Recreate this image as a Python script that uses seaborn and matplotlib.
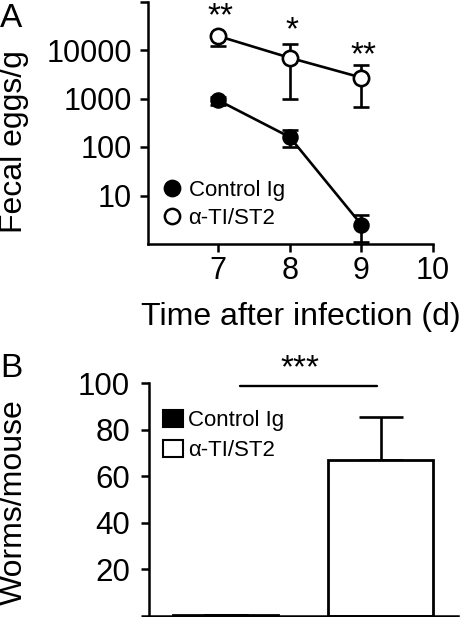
import matplotlib
matplotlib.use("Agg")
import matplotlib.pyplot as plt
from matplotlib.lines import Line2D
from matplotlib.patches import Patch
import seaborn as sns
import pandas as pd
import numpy as np

# ---------------- data ----------------
days = [7, 8, 9]
groups = ["Control Ig", "α-TI/ST2"]
control_eggs = [920, 160, 2.5]
control_lo = [730, 100, 1.1]
control_hi = [1050, 220, 4.0]
anti_eggs = [19400, 6900, 2700]
anti_lo = [12300, 970, 670]
anti_hi = [21000, 13100, 4900]
egg_ticks = [10, 100, 1000, 10000, 100000]
egg_ticklabels = ["10", "100", "1000", "10000", ""]
day_ticks = [7, 8, 9, 10]
stars_A = ["**", "*", "**"]
stars_A_pos = [33000, 17000, 5000]

worms = [0.4, 67]
worms_err = [0, 18.5]
worm_ticks = [0, 20, 40, 60, 80, 100]
worm_ticklabels = ["", "20", "40", "60", "80", "100"]
stars_B = "***"

# ---------------- style ----------------
sns.set_theme(style="ticks")
plt.rcParams["font.family"] = ["Liberation Sans", "DejaVu Sans"]
plt.rcParams["axes.linewidth"] = 1.8
plt.rcParams["xtick.major.width"] = 1.8
plt.rcParams["ytick.major.width"] = 1.8
plt.rcParams["xtick.major.size"] = 5.5
plt.rcParams["ytick.major.size"] = 5.5
for k in ["xtick.color", "ytick.color", "axes.edgecolor", "text.color",
          "axes.labelcolor", "xtick.labelcolor", "ytick.labelcolor"]:
    plt.rcParams[k] = "black"

W, H = 463, 617
fig = plt.figure(figsize=(W / 100, H / 100), dpi=100)

def px_axes(l, t, r, b):
    return fig.add_axes([l / W, (H - b) / H, (r - l) / W, (b - t) / H])

# ---------------- panel A ----------------
axA = px_axes(148, 1.5, 433, 244)
dfA = pd.DataFrame({"day": days * 2,
                    "eggs": control_eggs + anti_eggs,
                    "group": [groups[0]] * 3 + [groups[1]] * 3})

for g, eggs, lo, hi, fc, ms in [(groups[0], control_eggs, control_lo, control_hi, "black", 10),
                                (groups[1], anti_eggs, anti_lo, anti_hi, "white", 11)]:
    e = np.array(eggs); l = np.array(lo); h = np.array(hi)
    axA.errorbar(days, e, yerr=[e - l, h - e], fmt="none", ecolor="black",
                 elinewidth=1.9, capsize=6, capthick=1.9, zorder=1)
    sns.lineplot(data=dfA[dfA.group == g], x="day", y="eggs", ax=axA, color="black",
                 linewidth=1.9, marker="o", markersize=ms, markerfacecolor=fc,
                 markeredgecolor="black", markeredgewidth=1.9, zorder=3, legend=False)

axA.set_yscale("log")
axA.set_ylim(1, 100000)
axA.set_xlim(6.02, 10)
axA.set_yticks(egg_ticks)
axA.set_yticklabels(egg_ticklabels)
axA.minorticks_off()
axA.set_xticks(day_ticks)
axA.set_xticklabels([str(d) for d in day_ticks])
axA.tick_params(axis="y", labelsize=22, pad=6)
axA.tick_params(axis="x", labelsize=22, pad=3)
axA.set_xlabel("")
axA.set_ylabel("")
sns.despine(ax=axA)

for d, s, p in zip(days, stars_A, stars_A_pos):
    axA.text(d + 0.03, p, s, ha="center", va="baseline", fontsize=24, clip_on=False)

hA = [Line2D([], [], linestyle="none", marker="o", markersize=11, markerfacecolor="black",
             markeredgecolor="black", markeredgewidth=1.8),
      Line2D([], [], linestyle="none", marker="o", markersize=11, markerfacecolor="white",
             markeredgecolor="black", markeredgewidth=1.8)]
axA.legend(hA, groups, loc="upper left", bbox_to_anchor=(0.045, 0.265), frameon=False,
           fontsize=16, handlelength=1.0, handletextpad=0.25, labelspacing=0.33,
           borderpad=0, borderaxespad=0)

fig.text(0 / W, 1 - 27 / H, "A", fontsize=24, ha="left", va="baseline")
fig.text(14 / W, 1 - 142 / H, "Fecal eggs/g", rotation=90, fontsize=23, ha="center", va="center")
fig.text(301 / W, 1 - 325 / H, "Time after infection (d)", fontsize=23, ha="center", va="baseline")

# ---------------- panel B ----------------
axB = px_axes(149, 383.3, 458, 615.5)
dfB = pd.DataFrame({"group": groups, "worms": worms})
sns.barplot(data=dfB, x="group", y="worms", hue="group", palette=["black", "white"],
            edgecolor="black", linewidth=2, width=0.68, ax=axB, legend=False)
axB.errorbar([0, 1], worms, yerr=[[0, 0], worms_err], fmt="none", ecolor="black",
             elinewidth=1.9, capsize=15.5, capthick=1.9, zorder=0.5)
axB.set_ylim(0, 100)
axB.set_xlim(-0.494, 1.5)
axB.set_yticks(worm_ticks)
axB.set_yticklabels(worm_ticklabels)
axB.set_xticks([])
axB.tick_params(axis="y", labelsize=22.5, pad=8)
axB.set_xlabel("")
axB.set_ylabel("")
sns.despine(ax=axB)

axB.plot([0.094, 0.977], [99, 99], color="black", linewidth=1.7, clip_on=False)
axB.text(0.48, 102.5, stars_B, ha="center", va="baseline", fontsize=24, clip_on=False)

hB = [Patch(facecolor="black", edgecolor="black", linewidth=1.5),
      Patch(facecolor="white", edgecolor="black", linewidth=1.5)]
axB.legend(hB, groups, loc="upper left", bbox_to_anchor=(0.045, 0.885), frameon=False,
           fontsize=16, handlelength=0.9, handleheight=0.82, handletextpad=0.25,
           labelspacing=0.38, borderpad=0, borderaxespad=0)

fig.text(0 / W, 1 - 377 / H, "B", fontsize=24, ha="left", va="baseline")
fig.text(14 / W, 1 - 502 / H, "Worms/mouse", rotation=90, fontsize=23, ha="center", va="center")

fig.savefig("out.png", dpi=100)
